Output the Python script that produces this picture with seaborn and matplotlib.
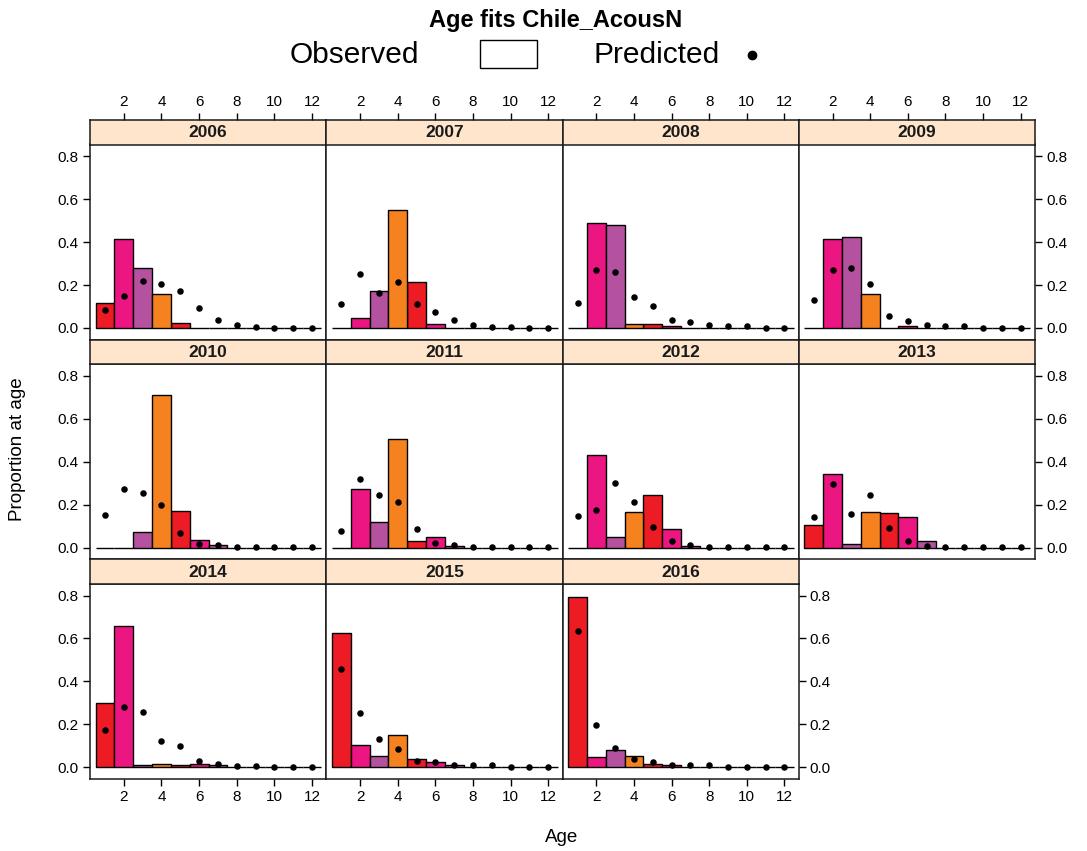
import matplotlib.pyplot as plt
import matplotlib.patches as mpatches
from matplotlib.lines import Line2D
import pandas as pd
import seaborn as sns

# ages and years shown
ages = list(range(1, 13))
years = [2006, 2007, 2008, 2009, 2010, 2011, 2012, 2013, 2014, 2015, 2016]

# observed proportions at age (bars)
obs_2006 = [0.118, 0.414, 0.279, 0.160, 0.023, 0, 0, 0, 0, 0, 0, 0]
obs_2007 = [0, 0.047, 0.174, 0.551, 0.215, 0.016, 0, 0, 0, 0, 0, 0]
obs_2008 = [0, 0.488, 0.480, 0.017, 0.017, 0.008, 0, 0, 0, 0, 0, 0]
obs_2009 = [0, 0.416, 0.424, 0.160, 0, 0.008, 0, 0, 0, 0, 0, 0]
obs_2010 = [0, 0, 0.072, 0.713, 0.168, 0.033, 0.011, 0, 0, 0, 0, 0]
obs_2011 = [0, 0.271, 0.118, 0.504, 0.031, 0.047, 0.009, 0, 0, 0, 0, 0]
obs_2012 = [0, 0.431, 0.047, 0.167, 0.247, 0.087, 0.009, 0, 0, 0, 0, 0]
obs_2013 = [0.103, 0.344, 0.017, 0.167, 0.159, 0.143, 0.031, 0, 0, 0, 0, 0]
obs_2014 = [0.300, 0.658, 0.008, 0.015, 0.008, 0.015, 0.008, 0, 0, 0, 0, 0]
obs_2015 = [0.627, 0.102, 0.053, 0.150, 0.039, 0.022, 0.009, 0, 0, 0, 0, 0]
obs_2016 = [0.793, 0.046, 0.079, 0.053, 0.015, 0.008, 0, 0, 0, 0, 0, 0]

# predicted proportions at age (dots)
pred_2006 = [0.083, 0.148, 0.220, 0.204, 0.173, 0.093, 0.036, 0.012, 0.005, 0.001, 0.001, 0.001]
pred_2007 = [0.111, 0.252, 0.164, 0.213, 0.111, 0.076, 0.036, 0.012, 0.006, 0.006, 0.001, 0.001]
pred_2008 = [0.117, 0.269, 0.262, 0.142, 0.103, 0.036, 0.028, 0.014, 0.008, 0.008, 0.001, 0.001]
pred_2009 = [0.132, 0.269, 0.277, 0.206, 0.055, 0.031, 0.014, 0.008, 0.008, 0.001, 0.001, 0.001]
pred_2010 = [0.151, 0.271, 0.254, 0.198, 0.068, 0.017, 0.011, 0.001, 0.001, 0.001, 0.001, 0.001]
pred_2011 = [0.078, 0.318, 0.246, 0.213, 0.086, 0.023, 0.012, 0.001, 0.001, 0.001, 0.001, 0.001]
pred_2012 = [0.145, 0.174, 0.300, 0.213, 0.095, 0.031, 0.014, 0.001, 0.001, 0.001, 0.001, 0.001]
pred_2013 = [0.143, 0.294, 0.157, 0.246, 0.093, 0.031, 0.009, 0.001, 0.001, 0.001, 0.001, 0.001]
pred_2014 = [0.172, 0.282, 0.259, 0.124, 0.101, 0.029, 0.015, 0.006, 0.006, 0.001, 0.001, 0.001]
pred_2015 = [0.458, 0.251, 0.133, 0.085, 0.029, 0.022, 0.009, 0.008, 0.008, 0.001, 0.001, 0.001]
pred_2016 = [0.633, 0.197, 0.091, 0.039, 0.023, 0.008, 0.008, 0.008, 0.001, 0.001, 0.001, 0.001]

observed = [obs_2006, obs_2007, obs_2008, obs_2009, obs_2010, obs_2011,
            obs_2012, obs_2013, obs_2014, obs_2015, obs_2016]
predicted = [pred_2006, pred_2007, pred_2008, pred_2009, pred_2010, pred_2011,
             pred_2012, pred_2013, pred_2014, pred_2015, pred_2016]

# bar colours cycle with age
age_colours = {"g0": "#ED1C24", "g1": "#EC1683", "g2": "#B5529F", "g3": "#F5821F"}

sns.set_style("ticks")
plt.rcParams["font.family"] = ["Liberation Sans", "DejaVu Sans"]
plt.rcParams["text.color"] = "black"
plt.rcParams["xtick.color"] = "black"
plt.rcParams["ytick.color"] = "black"

W, H = 1087, 851
fig = plt.figure(figsize=(W / 100, H / 100), dpi=100)

col_left = [90, 326.25, 562.5, 798.75]
col_w = 236.25
row_top = [120, 339.7, 559.3]
row_bot = [339.7, 559.3, 779]
strip_h = 24.5
frame = "#1a1a1a"


def style_axes(ax):
    for sp in ax.spines.values():
        sp.set_visible(True)
        sp.set_color(frame)
        sp.set_linewidth(1.1)
    ax.tick_params(colors="black", length=5, width=1, labelsize=11, pad=3)


for i, year in enumerate(years):
    r, c = divmod(i, 4)
    x0 = col_left[c]
    ax = fig.add_axes([x0 / W, 1 - row_bot[r] / H, col_w / W,
                       (row_bot[r] - row_top[r] - strip_h) / H])
    df = pd.DataFrame({
        "age": ages,
        "obs": observed[i],
        "pred": predicted[i],
        "grp": [f"g{(a - 1) % 4}" for a in ages],
    })
    sns.barplot(data=df, x="age", y="obs", hue="grp", palette=age_colours,
                native_scale=True, width=1, dodge=False, errorbar=None,
                saturation=1, edgecolor="black", linewidth=1.0,
                legend=False, ax=ax)
    sns.scatterplot(data=df, x="age", y="pred", color="black", s=22,
                    marker="o", linewidth=0, ax=ax, zorder=5)
    ax.set_xlim(0.2, 12.76)
    ax.set_ylim(-0.055, 0.855)
    ax.set_xlabel("")
    ax.set_ylabel("")
    ax.set_xticks([2, 4, 6, 8, 10, 12])
    ax.set_yticks([0, 0.2, 0.4, 0.6, 0.8])
    ax.set_yticklabels(["0.0", "0.2", "0.4", "0.6", "0.8"])
    style_axes(ax)
    last_in_row = (c == 3) or (i == len(years) - 1)
    ax.tick_params(left=(c == 0), labelleft=(c == 0),
                   right=last_in_row, labelright=last_in_row,
                   bottom=(r == 2), labelbottom=(r == 2),
                   top=False, labeltop=False)

    # strip with the year
    sx = fig.add_axes([x0 / W, 1 - (row_top[r] + strip_h) / H, col_w / W,
                       strip_h / H])
    sx.set_facecolor("#FFE5CC")
    sx.set_xlim(0.2, 12.76)
    sx.set_yticks([])
    style_axes(sx)
    if r == 0:
        sx.set_xticks([2, 4, 6, 8, 10, 12])
        sx.tick_params(top=True, labeltop=True, bottom=False, labelbottom=False)
    else:
        sx.set_xticks([])
    sx.text(0.5, 0.47, str(year), transform=sx.transAxes, ha="center",
            va="center", fontsize=12.5, fontweight="bold", color="#1a1a1a")

# title and key
fig.text(556 / W, 1 - 21 / H, "Age fits Chile_AcousN", ha="center",
         va="center", fontsize=17, fontweight="bold")
fig.text(290 / W, 1 - 55 / H, "Observed", ha="left", va="center", fontsize=21.5)
fig.patches.append(mpatches.Rectangle((480 / W, 1 - 68 / H), 57 / W, 28 / H,
                                      transform=fig.transFigure,
                                      facecolor="white", edgecolor="black",
                                      linewidth=1))
fig.text(594 / W, 1 - 55 / H, "Predicted", ha="left", va="center", fontsize=21.5)
fig.lines.append(Line2D([752 / W], [1 - 55 / H], marker="o", markersize=6,
                        color="black", transform=fig.transFigure))

fig.text(18 / W, 1 - 449 / H, "Proportion at age", rotation=90, ha="center",
         va="center", fontsize=13.5)
fig.text(562 / W, 1 - 838 / H, "Age", ha="center", va="center", fontsize=13.5)

fig.savefig("out.png", dpi=100)
